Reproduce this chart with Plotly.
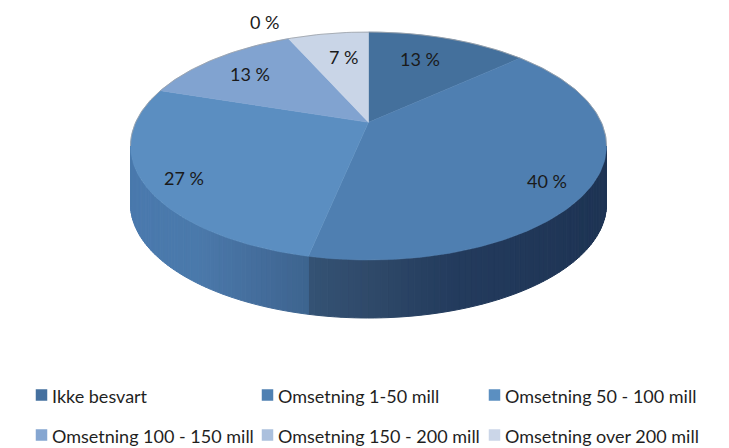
import numpy as np
import plotly.graph_objects as go

categories = ["Ikke besvart", "Omsetning 1-50 mill", "Omsetning 50 - 100 mill",
              "Omsetning 100 - 150 mill", "Omsetning 150 - 200 mill", "Omsetning over 200 mill"]
percent = [13.3, 40.0, 26.7, 13.3, 6.7, 0.0]
top_colors = ["#44709c", "#4f7fb1", "#5b8ec1", "#81a3d0", "#c9d5e7", "#cbd6e8"]
legend_colors = ["#45709f", "#4f80b2", "#5b8fc1", "#85a6d1", "#abc0dd", "#cbd6e8"]

# layout (pixel space of the 729x448 page)
CX, CY, RX, RY, DEPTH, K = 368.5, 146, 238, 114, 58, 0.81
label_pos = [(420, 59), (547, 181), (184, 178), (250, 74), (343, 57), (264, 22)]
legend_x = [36, 262, 489, 36, 262, 489]
legend_y = [396, 396, 396, 436, 436, 436]
FONT = "Lato"
FS = 18

# side-wall shading stops along the arc: (x pixel, colour)
left_stops = [(130, (74, 122, 174)), (200, (75, 121, 171)), (255, (69, 110, 157)), (312, (61, 100, 142))]
right_stops = [(312, (52, 82, 116)), (370, (48, 74, 106)), (450, (36, 60, 94)), (606, (30, 52, 84))]


def warp(t):
    return 2 * np.arctan2(K * np.sin(t / 2), np.cos(t / 2))


def edge(t, dy=0.0):
    p = warp(np.asarray(t, dtype=float))
    return CX + RX * np.sin(p), CY - RY * np.cos(p) + dy


def side_color(x, stops):
    xs = [s[0] for s in stops]
    c = [int(np.interp(x, xs, [s[1][i] for s in stops])) for i in range(3)]
    return f"rgb({c[0]},{c[1]},{c[2]})"


fig = go.Figure()
ax, ay = CX, CY - RY * np.cos(warp(np.pi / 2))
bounds = np.deg2rad(np.cumsum([0] + percent) * 3.6)

# side wall: thin strips along the front of the disc (warped angle 90..270 degrees)
t0 = 2 * np.arctan2(np.sin(np.pi / 4), K * np.cos(np.pi / 4))
t1 = 2 * np.pi - t0
split = bounds[2]
for seg, stops in ((np.linspace(t0, split, 70), right_stops), (np.linspace(split, t1, 60), left_stops)):
    for a, b in zip(seg[:-1], seg[1:]):
        tt = np.linspace(a, b, 5)
        x1, y1 = edge(tt)
        x2, y2 = edge(tt[::-1], DEPTH)
        col = side_color(x1.mean(), stops)
        fig.add_trace(go.Scatter(x=np.r_[x1, x2, x1[0]], y=np.r_[y1, y2, y1[0]], mode="lines", fill="toself",
                                 fillcolor=col, line=dict(color=col, width=1),
                                 hoverinfo="skip", showlegend=False))

# top face slices
for i, p in enumerate(percent):
    if p <= 0:
        continue
    tt = np.linspace(bounds[i], bounds[i + 1], 120)
    x, y = edge(tt)
    fig.add_trace(go.Scatter(x=np.r_[ax, x, ax], y=np.r_[ay, y, ay], mode="lines", fill="toself",
                             fillcolor=top_colors[i], line=dict(color=top_colors[i], width=0.5),
                             name=categories[i], hoverinfo="name", showlegend=False))

# back rim highlight
tt = np.r_[np.linspace(t1, 2 * np.pi, 80), np.linspace(0, t0, 80)]
x, y = edge(tt)
fig.add_trace(go.Scatter(x=x, y=y, mode="lines", line=dict(color="#9a9fa6", width=0.8),
                         hoverinfo="skip", showlegend=False))

# legend entries
for i, c in enumerate(categories):
    fig.add_trace(go.Scatter(x=[legend_x[i] + 5.5], y=[legend_y[i] - 1], mode="markers",
                             marker=dict(symbol="square", size=11.5, color=legend_colors[i]),
                             name=c, hoverinfo="name", showlegend=False))

annotations = [dict(x=label_pos[i][0], y=label_pos[i][1], xref="x", yref="y", text=f"{round(p)} %", showarrow=False,
                    font=dict(family=FONT, size=FS, color="#1a1a1a")) for i, p in enumerate(percent)]
annotations += [dict(x=legend_x[i] + 16, y=legend_y[i], xref="x", yref="y", text=c, showarrow=False,
                     xanchor="left", xshift=-2, font=dict(family=FONT, size=FS, color="#1f1f1f"))
                for i, c in enumerate(categories)]

fig.update_layout(width=729, height=448, margin=dict(l=0, r=0, t=0, b=0), paper_bgcolor="white",
                  plot_bgcolor="white", showlegend=False, annotations=annotations,
                  xaxis=dict(range=[0, 729], visible=False, fixedrange=True),
                  yaxis=dict(range=[448, 0], visible=False, fixedrange=True))
fig.write_html("out.html", config={"displayModeBar": False},
               post_script="document.body.style.margin='0';document.body.style.overflow='hidden';")
